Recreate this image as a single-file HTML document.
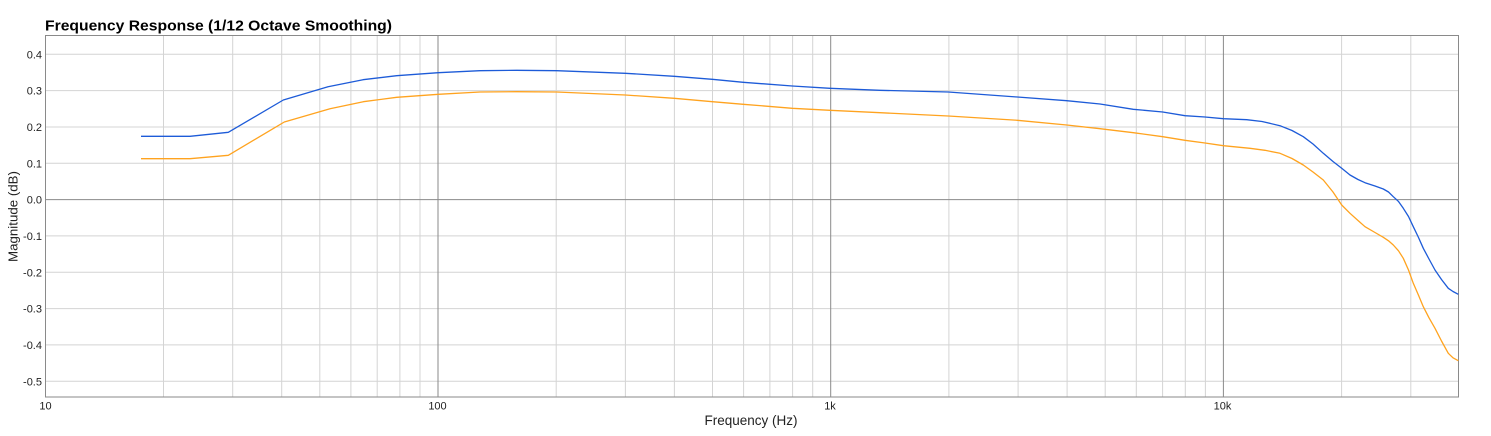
<!DOCTYPE html>
<html><head><meta charset="utf-8"><style>
html,body{margin:0;padding:0;background:#fff;}
svg{display:block;}
text{font-family:"Liberation Sans",Arial,sans-serif;fill:#222;}
</style></head><body>
<svg width="1491" height="436" viewBox="0 0 1491 436" xmlns="http://www.w3.org/2000/svg">
<rect x="0" y="0" width="1491" height="436" fill="#fff"/>
<text x="45" y="30.5" font-size="15" font-weight="bold" textLength="347" lengthAdjust="spacingAndGlyphs" style="fill:#000">Frequency Response (1/12 Octave Smoothing)</text>
<g stroke="#d4d4d4" stroke-width="1" fill="none">
<path d="M45 54.3H1458M45 90.6H1458M45 127H1458M45 163.3H1458M45 235.9H1458M45 272.3H1458M45 308.6H1458M45 344.9H1458M45 381.3H1458"/>
<path d="M163.5 36V397M232.7 36V397M281.7 36V397M319.8 36V397M350.9 36V397M377.2 36V397M399.9 36V397M420 36V397
M556.2 36V397M625.4 36V397M674.4 36V397M712.5 36V397M743.6 36V397M769.9 36V397M792.6 36V397M812.7 36V397
M948.9 36V397M1018.1 36V397M1067.1 36V397M1105.2 36V397M1136.3 36V397M1162.6 36V397M1185.3 36V397M1205.4 36V397
M1341.6 36V397M1410.8 36V397"/>
</g>
<g stroke="#8a8a8a" stroke-width="1" fill="none">
<path d="M438 36V397M830.7 36V397M1223.4 36V397M45 199.6H1458"/>
<rect x="45.5" y="35.5" width="1413" height="361.5"/>
</g>
<polyline fill="none" stroke="#1d5bd8" stroke-width="1.3" stroke-linejoin="round" points="141,136.3 190,136.3 228.3,132.3 283.3,100 328,86.7 363,79.7 396.7,75.7 438.3,72.7 480,70.7 516.7,70.3 556.7,70.7 625.3,73.3 674.3,76.3 712.3,79.3 743.3,82.3 792.3,86 830,88.3 880,90.3 948.3,92 1017.3,97 1066.7,100.7 1100,104 1133.3,109.3 1162.7,112 1185,115.7 1205,117 1223.3,118.7 1246.7,119.7 1262,121.5 1280,125.7 1292,130.5 1303.3,136.7 1313,144 1323.3,153.3 1333,161.5 1341.7,168.3 1350,175 1358,179.5 1365,182.7 1375,186 1383.3,189 1388.5,192 1393.3,196.7 1398.5,201.5 1403.3,208.3 1408.5,216.5 1413.3,226.7 1418.5,237.5 1423.3,248.3 1429,259 1435,270 1441.5,279.5 1448.3,288.3 1453,291.5 1458.3,294.3"/>
<polyline fill="none" stroke="#ffa31f" stroke-width="1.3" stroke-linejoin="round" points="141,158.7 190,158.7 228.3,155.3 284.3,122 330,108.7 363.3,101.7 396.7,97.3 438.3,94.3 480,92 516.7,91.7 556.7,92 625.3,95 674.3,98.3 712.3,101.7 743.3,104.3 792.3,108.3 830,110.3 880,112.7 948.3,116 1017.3,120.3 1066.7,125 1100,128.7 1133.3,132.7 1162.7,136.7 1185,140.3 1205,143 1223.3,145.7 1250,148.3 1265,150.3 1280,153.3 1292,158.5 1303.3,165 1313,172 1323.3,180 1333,192 1341.7,205 1350,213.3 1358,220.5 1365,226.7 1375,232.5 1383.3,237.3 1388.5,240.8 1393.3,245 1398.5,250.8 1403.3,258.3 1408.5,270 1413.3,283.3 1418.5,295.2 1423.3,306.7 1429,317.8 1435,328.3 1441.5,341 1448.3,353.3 1453,357.8 1458.3,360.7"/>
<g font-size="11" text-anchor="end">
<text x="42" y="58.3">0.4</text>
<text x="42" y="94.6">0.3</text>
<text x="42" y="131">0.2</text>
<text x="42" y="167.3">0.1</text>
<text x="42" y="203.6">0.0</text>
<text x="42" y="239.9">-0.1</text>
<text x="42" y="276.3">-0.2</text>
<text x="42" y="312.6">-0.3</text>
<text x="42" y="348.9">-0.4</text>
<text x="42" y="385.3">-0.5</text>
</g>
<g font-size="11" text-anchor="middle">
<text x="45.5" y="409.5">10</text>
<text x="437.5" y="409.5">100</text>
<text x="830" y="409.5">1k</text>
<text x="1222.5" y="409.5">10k</text>
</g>
<text x="751" y="425" font-size="13.5" text-anchor="middle">Frequency (Hz)</text>
<text transform="translate(17.5,216.5) rotate(-90)" font-size="13.3" text-anchor="middle">Magnitude (dB)</text>
</svg>
</body></html>
